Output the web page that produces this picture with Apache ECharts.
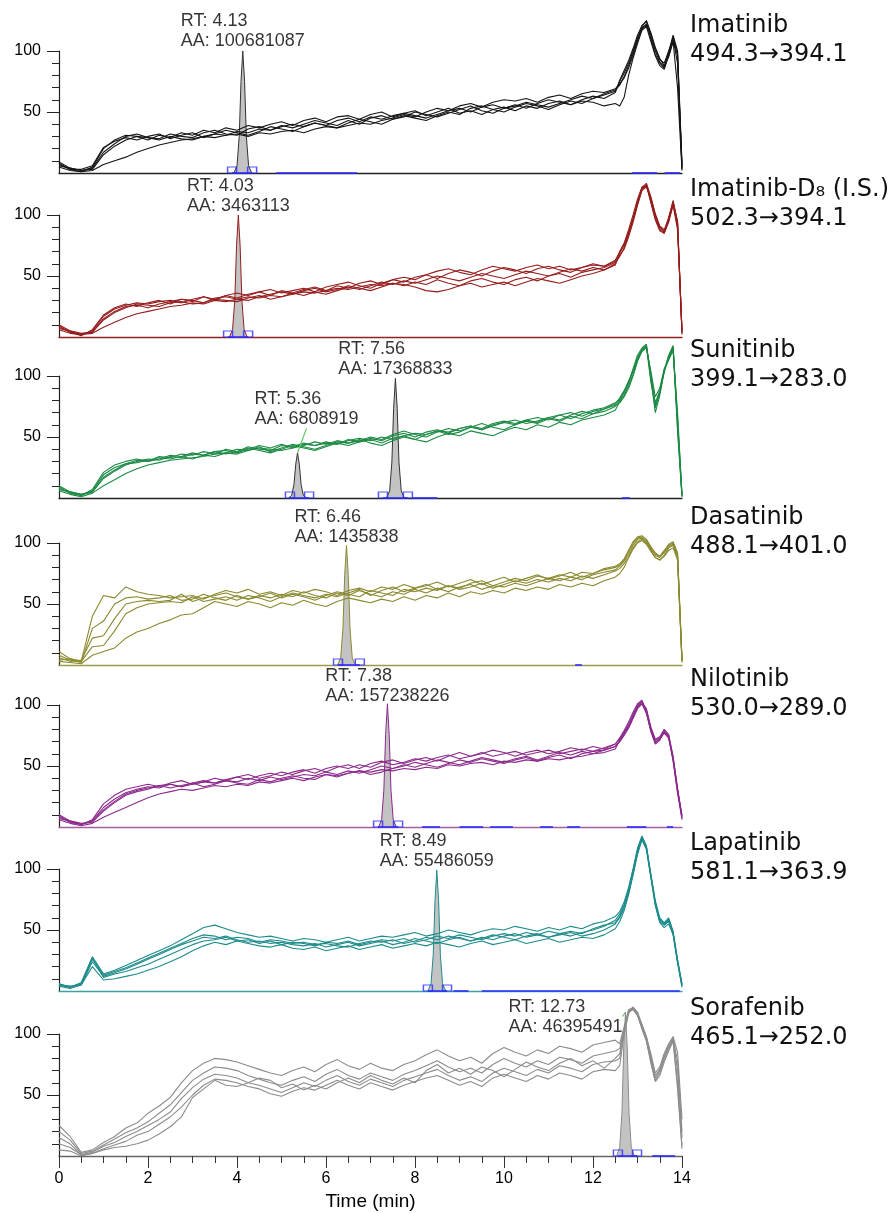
<!DOCTYPE html>
<html><head><meta charset="utf-8">
<script src="https://cdn.jsdelivr.net/npm/echarts@6/dist/echarts.min.js"></script>
<style>html,body{margin:0;padding:0;background:#fff}#c{width:891px;height:1213px}</style>
</head><body><div id="c"></div>
<script>
// ---------------- DATA ----------------
const times = [0,0.25,0.5,0.75,1,1.25,1.5,1.75,2,2.25,2.5,2.75,3,3.25,3.5,3.75,4,4.25,4.5,4.75,5,5.25,5.5,5.75,6,6.25,6.5,6.75,7,7.25,7.5,7.75,8,8.25,8.5,8.75,9,9.25,9.5,9.75,10,10.25,10.5,10.75,11,11.25,11.5,11.75,12,12.25,12.5,12.6,12.7,12.8,12.9,13,13.1,13.2,13.3,13.4,13.5,13.6,13.7,13.8,13.9,14];

const panelNames = ['Imatinib','Imatinib-D\u2088 (I.S.)','Sunitinib','Dasatinib','Nilotinib','Lapatinib','Sorafenib'];
const transitions = ['494.3\u2192394.1','502.3\u2192394.1','399.1\u2192283.0','488.1\u2192401.0','530.0\u2192289.0','581.1\u2192363.9','465.1\u2192252.0'];
const yLabelValues = [50,100];

const tracesImatinib = [
[8,3,1,5,20,27,31,30,27,31,29, 33,31,35,33,37,35,39,37,40,42, 39,43,45,42,46,47,44,48,50,46, 49,51,47,50,53,49,51,48,52,54, 51,55,53,57,59,56,60,63,61,66, 76,84,92,102,113,121,124,110,97,90,86,97,112,96,4],
[6,4,2,3,15,22,27,30,29,27,30, 28,27,30,29,31,32,30,33,32,34, 35,33,36,38,37,39,41,40,43,45, 48,46,50,53,51,55,57,54,58,60, 59,61,58,62,64,61,65,67,66,69, 73,78,86,96,108,119,122,114,102,93,90,100,110,90,6],
[5,2,1,2,7,10,13,17,20,23,25, 27,28,30,32,31,34,33,36,35,38, 40,38,41,39,43,45,42,46,44,47, 49,47,45,48,51,53,50,54,56,53, 55,58,56,54,57,60,63,61,65,68, 72,79,88,98,110,120,125,115,103,94,88,95,108,98,3],
[7,3,3,6,21,26,29,27,30,32,28, 31,33,29,32,35,33,31,34,38,36, 34,38,41,39,37,41,44,42,40,44, 47,45,43,47,50,48,53,55,52,50, 54,57,55,52,56,59,57,61,64,67, 75,82,90,100,111,118,121,112,100,91,87,99,113,100,8],
[9,4,2,4,17,24,30,32,29,28,32, 30,29,33,35,32,31,36,38,35,39, 37,40,43,41,39,43,40,45,47,44, 46,50,48,46,49,52,55,51,49,53, 56,53,57,60,58,56,59,58,55,57, 55,62,80,94,106,117,120,108,96,88,85,96,108,70,2]
];
const tracesImatinibD8 = [
[9,4,1,6,18,24,27,25,28,30,27, 31,29,33,30,34,32,35,37,34,38, 36,39,41,38,42,40,44,46,43,47, 45,49,51,48,52,55,53,50,54,57, 55,52,56,58,55,53,57,59,58,62, 70,77,88,100,113,123,125,110,96,87,85,97,112,94,3],
[7,5,3,4,14,20,24,27,26,25,28, 29,27,28,31,30,29,32,34,31,33, 36,34,37,35,38,41,39,42,45,43, 46,44,47,50,48,46,49,52,50,48, 51,54,52,50,53,56,54,57,55,60, 67,72,82,94,108,120,123,114,100,90,87,95,108,88,5],
[6,3,2,3,8,12,16,19,21,23,25, 26,28,27,30,29,31,33,32,34,33, 35,37,36,38,40,39,41,43,42,44, 43,41,38,37,39,42,44,41,43,45, 42,45,48,46,44,47,50,52,55,59, 69,75,85,97,111,122,124,113,99,89,86,98,111,93,2],
[8,4,2,5,17,23,26,28,27,29,30, 28,31,33,31,34,36,34,37,39,36, 38,40,37,41,43,45,42,40,44,47, 49,47,51,54,56,53,51,55,58,56, 54,57,59,56,58,55,57,60,58,63, 69,76,86,97,109,121,124,111,97,88,85,94,109,91,6],
[10,5,2,4,15,21,25,26,24,27,29, 31,30,28,32,33,31,30,33,35,37, 35,38,40,37,39,42,40,38,41,44, 42,45,43,47,44,42,46,48,45,43, 47,49,46,50,52,49,53,55,57,61, 66,73,84,96,110,122,126,115,101,91,88,97,110,95,4]
];
const tracesSunitinib = [
[9,4,2,7,21,27,30,32,30,34,33, 36,35,38,36,40,38,42,40,39,43, 42,45,43,46,44,48,46,49,47,51, 53,50,54,56,53,57,59,56,60,62, 60,64,62,66,68,65,69,72,74,78, 81,87,95,106,117,123,126,98,70,84,104,116,124,58,1],
[7,5,3,5,16,22,27,30,32,31,34, 33,36,35,34,37,40,39,42,38,41, 44,42,40,43,46,45,48,45,43,47, 50,48,46,50,53,51,55,53,51,55, 58,56,60,58,62,60,64,66,68,72, 79,84,92,101,113,121,124,102,78,88,106,114,122,65,2],
[6,3,1,4,10,15,20,24,27,29,31, 32,33,34,36,37,36,39,41,40,39, 41,44,43,45,44,47,49,47,50,48, 51,53,52,55,54,57,59,57,61,63, 61,64,66,64,68,70,67,71,73,76, 78,83,90,100,112,120,123,104,83,90,105,113,121,70,3],
[8,4,2,6,19,25,28,29,31,33,32, 34,37,35,38,39,37,40,43,41,44, 41,43,46,44,47,45,47,50,48,52, 55,52,50,54,57,55,58,61,58,56, 60,63,61,65,63,67,65,69,71,75, 80,86,94,104,115,122,125,100,74,86,103,115,123,62,2],
[10,5,3,5,17,23,28,31,30,32,35, 34,32,35,38,36,38,41,39,37,40, 43,41,39,42,45,43,46,48,45,49, 51,48,52,55,52,54,58,56,59,62, 64,61,63,66,64,68,71,69,73,77, 82,88,96,104,114,121,124,95,76,87,104,117,125,55,1]
];
const tracesDasatinib = [
[11,5,3,40,57,55,64,60,58,57,55,56,57,54,58,61,59,62,58,60,57,61,59,62,60,57,61,63,60,64,62,66,63,65,68,64,67,70,66,69,72,68,71,74,70,73,76,72,75,78,80,82,86,93,100,104,105,102,96,90,88,93,99,101,92,4],
[8,4,2,30,36,50,55,56,54,55,57,53,54,58,55,53,57,54,56,59,55,58,56,53,57,60,58,56,61,59,57,62,60,63,61,65,62,64,67,63,66,69,67,70,68,71,69,73,71,74,77,79,83,89,96,101,103,100,94,88,86,90,96,98,88,3],
[6,3,4,22,24,38,50,52,53,52,53,58,52,55,57,59,56,54,57,55,58,56,60,57,55,59,57,61,58,56,60,58,62,59,63,60,64,66,62,65,64,67,65,68,71,69,72,70,74,76,78,81,85,91,98,103,104,101,95,91,89,92,97,99,91,2],
[4,5,3,15,16,28,42,47,50,51,52,51,56,52,54,56,53,57,55,52,56,59,57,55,58,56,59,62,57,61,64,60,63,66,62,65,63,67,69,65,68,71,69,73,71,74,72,76,75,79,81,83,87,94,101,105,106,103,97,92,89,94,98,100,89,5],
[3,2,1,8,11,14,22,27,30,34,37,41,42,47,52,50,48,52,50,47,51,49,53,50,48,52,55,53,51,54,52,56,53,57,55,59,56,60,58,61,59,63,61,64,62,66,64,67,65,69,72,75,80,88,95,100,102,99,93,88,86,89,94,96,86,3]
];
const tracesNilotinib = [
[9,4,2,6,19,26,31,33,35,33,36, 38,35,37,40,38,41,43,40,42,45, 43,46,48,45,49,51,48,52,54,51, 53,56,54,57,59,56,58,61,58,60, 62,59,61,63,60,62,64,62,65,68, 72,78,84,92,100,103,94,78,68,71,79,75,57,30,9],
[7,5,3,4,13,20,26,29,31,34,32, 34,36,33,35,38,36,35,39,37,40, 42,40,39,43,41,44,46,43,45,48, 51,49,52,55,53,51,54,57,55,53, 56,58,55,58,61,59,62,60,63,66, 70,75,81,89,97,101,96,82,72,74,80,76,58,32,7],
[6,3,1,3,8,12,16,20,24,27,29, 31,30,32,34,33,35,34,37,36,38, 40,38,41,43,42,44,46,45,47,46, 48,47,49,48,51,50,52,53,51,54, 53,55,54,56,55,57,58,60,61,64, 71,77,83,91,99,102,97,81,71,73,78,74,54,28,6],
[8,4,2,5,16,23,28,31,33,32,35, 33,36,38,36,39,41,39,42,44,42, 45,47,44,48,50,48,51,49,53,55, 52,55,57,54,58,61,58,60,63,61, 58,61,63,60,62,65,63,66,64,68, 73,79,86,94,101,104,95,80,69,72,78,73,56,31,10],
[10,5,2,5,14,21,27,30,32,34,35, 33,35,37,36,38,37,40,38,41,39, 41,43,42,45,43,46,44,47,50,48, 50,53,51,49,52,55,53,56,54,52, 55,57,54,57,59,56,60,62,63,66, 70,76,82,90,98,101,93,79,70,72,77,73,55,29,8]
];
const tracesLapatinib = [
[6,3,7,28,14,17,21,25,29,33,37,42,47,52,54,51,48,46,44,45,43,41,43,42,40,42,44,41,43,45,44,46,48,45,47,50,48,46,49,51,50,53,51,49,52,50,53,51,55,57,61,65,73,85,100,117,127,119,96,74,60,56,60,49,26,6],
[5,4,5,24,12,15,18,22,26,30,34,38,41,44,43,45,42,40,41,39,40,38,37,39,36,38,40,37,39,41,38,40,43,41,39,42,44,41,43,46,44,42,45,47,44,46,48,45,47,50,55,60,68,80,96,113,125,117,94,71,57,54,57,47,24,4],
[4,2,5,20,9,10,12,14,17,20,24,28,33,37,40,38,41,39,37,36,38,35,34,36,33,35,37,34,36,38,35,37,39,37,40,38,36,39,41,38,40,42,39,41,43,40,42,44,43,46,51,57,66,79,95,112,124,116,93,70,56,52,55,46,23,3],
[6,3,6,26,13,16,19,23,27,31,35,39,43,46,45,42,44,43,40,42,41,39,40,38,39,37,36,39,41,40,42,39,41,44,42,45,43,41,44,42,45,47,44,46,49,47,45,48,50,53,58,63,71,83,99,116,126,118,95,73,59,55,59,48,25,5],
[5,3,6,27,11,14,16,19,22,26,30,34,38,41,42,44,41,42,39,41,38,40,39,37,40,39,41,38,40,42,41,43,40,42,45,43,46,44,42,45,47,45,48,46,44,47,49,47,51,54,56,61,70,82,97,114,126,118,94,72,58,54,58,47,24,5]
];
const tracesSorafenib = [
[25,16,3,5,11,16,23,27,35,41,48,60,70,76,80,79,77,74,71,68,66,70,73,69,75,79,74,71,76,72,70,75,78,83,87,82,78,81,76,84,89,85,82,87,84,90,88,85,91,93,95,92,106,119,122,117,108,98,84,68,73,84,92,98,85,30],
[20,13,2,4,9,14,19,23,28,35,42,52,62,68,73,72,70,66,63,60,58,62,65,61,67,71,66,63,68,65,62,67,70,74,78,73,69,72,68,75,80,76,73,78,75,81,79,76,82,84,86,88,104,120,121,116,106,96,80,64,70,81,90,97,70,15],
[15,10,1,3,8,11,16,20,25,30,36,47,56,63,67,66,64,60,58,55,52,56,60,57,62,66,61,58,63,60,57,62,65,68,71,66,62,65,61,68,72,69,66,71,68,74,72,69,75,77,78,80,102,118,120,115,104,94,78,62,68,79,88,95,60,8],
[10,7,1,2,6,9,12,17,20,26,32,40,50,58,63,62,60,57,55,51,49,53,56,54,58,62,58,55,60,57,54,58,61,64,66,62,58,61,57,64,67,64,61,66,63,68,66,63,69,71,70,74,100,117,121,116,105,95,76,61,66,77,86,94,55,6],
[5,4,0,2,5,7,8,10,13,18,24,32,48,55,62,58,57,60,64,62,56,59,54,58,55,60,64,60,66,62,59,64,60,70,75,68,72,67,73,70,65,71,77,73,70,76,80,74,78,72,80,84,103,118,122,118,107,97,82,66,71,82,90,96,78,20]
];

// integrated peaks
const peakPanel  = [0,1,2,2,3,4,5,6];
const peakRT     = [4.13,4.03,5.36,7.56,6.46,7.38,8.49,12.73];
const peakAA     = ['100681087','3463113','6808919','17368833','1435838','157238226','55486059','46395491'];
const peakHeight = [100,100,37,98,98,101,99,118];
const intStart   = [3.89,3.80,5.19,7.28,6.27,7.17,8.29,12.56];
const intEnd     = [4.34,4.25,5.62,7.84,6.76,7.62,8.72,12.99];
// peak profile (offset from RT in min, fraction of height)
const peakShapeDt   = [-0.2,-0.13,-0.08,-0.04,0,0.04,0.08,0.13,0.2];
const peakShapeFrac = [0,0.06,0.3,0.75,1,0.75,0.3,0.06,0];
// other blue baseline segments per panel (min)
const blueSegments = [
  [[4.88,6.7],[12.88,13.44],[13.61,13.96]],
  [],
  [[7.95,8.5],[12.65,12.83]],
  [[11.6,11.75]],
  [[8.16,8.56],[9.0,9.53],[9.69,10.2],[10.81,11.1],[11.42,11.71],[12.76,13.2],[13.66,13.8]],
  [[8.86,9.2],[9.5,13.95]],
  [[13.33,13.84]]
];

// ---------------- STYLE / LAYOUT ----------------
const traceSets = [tracesImatinib,tracesImatinibD8,tracesSunitinib,tracesDasatinib,tracesNilotinib,tracesLapatinib,tracesSorafenib];
const colors   = ['#151515','#951d1d','#1c8a44','#8a892e','#8c2a8c','#1e8b8b','#8c8c8c'];
const axisCols = ['#222222','#8f2222','#222222','#9a9a50','#a060a0','#40a0a0','#666666'];
const peakEdge = ['#333333','#951d1d','#333333','#8a892e','#8c2a8c','#1e8b8b','#8c8c8c'];
const baseLines = [173,337,498,665,827,991,1156];
const plotH = 122;
const labelCfg = [
  {dist:2,dy:3},{dist:1,dy:3},{dist:1,dx:9,dy:-22,line:true},{dist:2,dy:3},{dist:1,dy:3},{dist:0,dy:3},{dist:2,dy:3},{dist:1,dx:-60,dy:26,line:true}
];

const grids = baseLines.map(b => ({left:59, width:623, top:b-plotH, height:plotH, containLabel:false}));
const last = baseLines.length-1;
const xAxes = grids.map((g,i)=>({
  gridIndex:i, type:'value', min:0, max:14, interval:2,
  axisLine:{show:true, onZero:false, lineStyle:{color:axisCols[i], width:1.3}},
  axisTick:{show:i===last, length:12, lineStyle:{color:'#333'}},
  minorTick:{show:i===last, splitNumber:4, length:7, lineStyle:{color:'#333'}},
  axisLabel:{show:i===last, fontFamily:'Liberation Sans', fontSize:16, color:'#000', margin:15},
  splitLine:{show:false}, minorSplitLine:{show:false},
  name: i===last ? 'Time (min)' : '', nameLocation:'middle', nameGap:36,
  nameTextStyle:{fontFamily:'Liberation Sans', fontSize:19, color:'#000'}
}));
const yAxes = grids.map((g,i)=>({
  gridIndex:i, type:'value', min:0, max:100, interval:50,
  axisLine:{show:true, onZero:false, lineStyle:{color:'#222', width:1.2}},
  axisTick:{show:true, length:12, customValues:yLabelValues, lineStyle:{color:'#222'}},
  minorTick:{show:true, splitNumber:5, length:7, lineStyle:{color:'#222'}},
  axisLabel:{customValues:yLabelValues, fontFamily:'Liberation Sans', fontSize:16, color:'#000', margin:18},
  splitLine:{show:false}, minorSplitLine:{show:false}
}));

const series = [];
// grey integrated peaks
peakRT.forEach((rt,k)=>{
  const p = peakPanel[k];
  series.push({type:'line', xAxisIndex:p, yAxisIndex:p, silent:true, clip:false, z:1,
    data: peakShapeDt.map((d,j)=>[rt+d, peakHeight[k]*peakShapeFrac[j]]),
    showSymbol:false, lineStyle:{color:peakEdge[p], width:1},
    areaStyle:{color:'#c3c3c3', opacity:1}});
});
// traces
traceSets.forEach((set,p)=>{
  set.forEach(tr=>{
    series.push({type:'line', xAxisIndex:p, yAxisIndex:p, silent:true, clip:false, z:2,
      data: times.map((t,j)=>[t,tr[j]]), showSymbol:false,
      lineStyle:{color:colors[p], width:1.1}});
  });
});
// blue integration marks
traceSets.forEach((set,p)=>{
  const ks = peakPanel.map((pp,k)=>pp===p?k:-1).filter(k=>k>=0);
  const pts = [];
  const segs = blueSegments[p].slice();
  ks.forEach(k=>{ pts.push([intStart[k],0]); pts.push([intEnd[k],0]); segs.push([intStart[k],intEnd[k]]); });
  series.push({type:'scatter', xAxisIndex:p, yAxisIndex:p, silent:true, clip:false, z:4,
    data: pts, symbol:'rect', symbolSize:[9,6], symbolOffset:[0,-3],
    itemStyle:{color:'rgba(255,255,255,0)', borderColor:'#2b2bff', borderWidth:1.2},
    markLine:{silent:true, symbol:'none', animation:false, label:{show:false},
      lineStyle:{color:'#2b2bff', width:1.6, type:'solid'},
      data: segs.map(s=>[{coord:[s[0],0]},{coord:[s[1],0]}])}
  });
});
// peak labels
peakRT.forEach((rt,k)=>{
  const p = peakPanel[k], L = labelCfg[k];
  const s = {type:'scatter', xAxisIndex:p, yAxisIndex:p, silent:true, clip:false, z:5,
    data:[[rt, peakHeight[k]]], symbolSize:1, itemStyle:{color:'rgba(0,0,0,0)'},
    label:{show:true, position:'top', distance:L.dist,
      formatter:'{a|RT: '+rt.toFixed(2)+'}\n{a|AA: '+peakAA[k]+'}',
      rich:{a:{align:'left', fontFamily:'Liberation Sans', fontSize:18, lineHeight:20, color:'#000'}}},
    labelLayout: {dx:L.dx||0, dy:L.dy||0},
    labelLine: {show:!!L.line, lineStyle:{color:'#5cc85c', width:1.2}}
  };
  series.push(s);
});

const titles = panelNames.map((n,i)=>({
  text: n+'\n'+transitions[i], left:690, top: baseLines[i]-plotH-40, padding:0,
  textStyle:{fontFamily:'DejaVu Sans', fontSize:24, fontWeight:'normal', lineHeight:29, color:'#111'}
}));

const chart = echarts.init(document.getElementById('c'), null, {renderer:'canvas'});
chart.setOption({animation:false, backgroundColor:'#fff', title:titles, grid:grids, xAxis:xAxes, yAxis:yAxes, series:series});
</script></body></html>
